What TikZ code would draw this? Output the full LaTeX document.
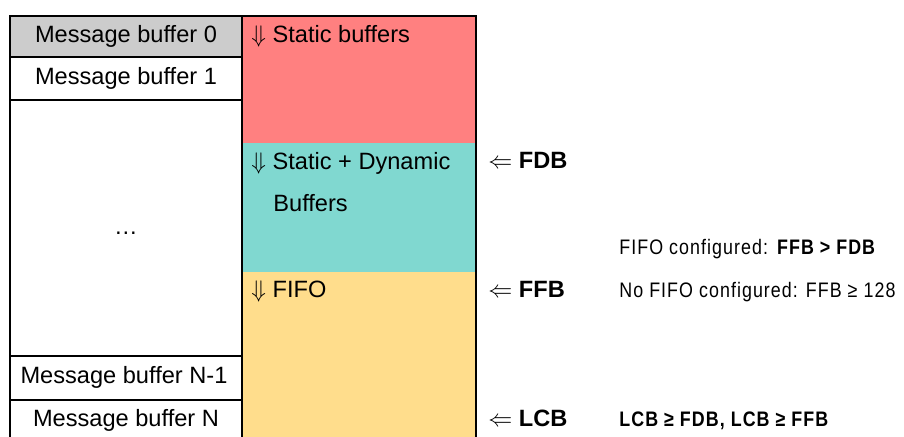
\documentclass[tikz,border=0pt]{standalone}
\usepackage{fontspec}
\setmainfont{Liberation Sans}
\newfontfamily\narrowf[FakeStretch=0.85,LetterSpace=5]{Liberation Sans}
\definecolor{mbgray}{RGB}{204,204,204}
\definecolor{statred}{RGB}{255,128,128}
\definecolor{dynteal}{RGB}{128,216,208}
\definecolor{fifoyel}{RGB}{255,221,140}
\begin{document}
\begin{tikzpicture}[x=0.5pt,y=-0.5pt,
  lbl/.style={inner sep=0pt, anchor=base, font=\fontsize{11.8}{14}\selectfont},
  lbll/.style={inner sep=0pt, anchor=base west, font=\fontsize{11.8}{14}\selectfont},
  note/.style={inner sep=0pt, anchor=base west, font=\narrowf\fontsize{10.5}{13}\selectfont},
  frame/.style={line width=1pt, line cap=rect}]
\useasboundingbox (0,0) rectangle (904,437);
% fills
\fill[mbgray] (10,16) rectangle (242,57);
\fill[statred] (242,16) rectangle (476,143);
\fill[dynteal] (242,143) rectangle (476,272);
\fill[fifoyel] (242,272) rectangle (476,445);
% frame lines
\draw[frame] (10,445) -- (10,16) -- (476,16) -- (476,445);
\draw[frame] (242,16) -- (242,445);
\draw[frame] (10,57) -- (242,57);
\draw[frame] (10,100) -- (242,100);
\draw[frame] (10,356) -- (242,356);
\draw[frame] (10,400) -- (242,400);
% left column labels
\node[lbl] (mb0) at (126,43) {Message buffer 0};
\node[lbl] (mb1) at (126,85) {Message buffer 1};
\node[lbl] (dots) at (126,235) {…};
\node[lbl] (mbn1) at (124,384) {Message buffer N-1};
\node[lbl] (mbn) at (126,427) {Message buffer N};
% right column labels
\node[lbll] (st) at (251,43) {$\Downarrow$ Static buffers};
\node[lbll] (sd) at (251,170) {$\Downarrow$ Static + Dynamic};
\node[lbll] (bf) at (273,212) {Buffers};
\node[lbll] (ff) at (251,298) {$\Downarrow$ FIFO};
% pointers
\node[lbll] (fdb) at (488,169) {$\Leftarrow$ \textbf{FDB}};
\node[lbll] (ffb) at (488,298) {$\Leftarrow$ \textbf{FFB}};
\node[lbll] (lcb) at (488,427) {$\Leftarrow$ \textbf{LCB}};
% notes
\node[note] (n1) at (619,255) {FIFO configured: \textbf{FFB > FDB}};
\node[note] (n2) at (619,298) {No FIFO configured: FFB ≥ 128};
\node[note] (n3) at (619,427) {\textbf{LCB ≥ FDB, LCB ≥ FFB}};
\end{tikzpicture}
\end{document}
